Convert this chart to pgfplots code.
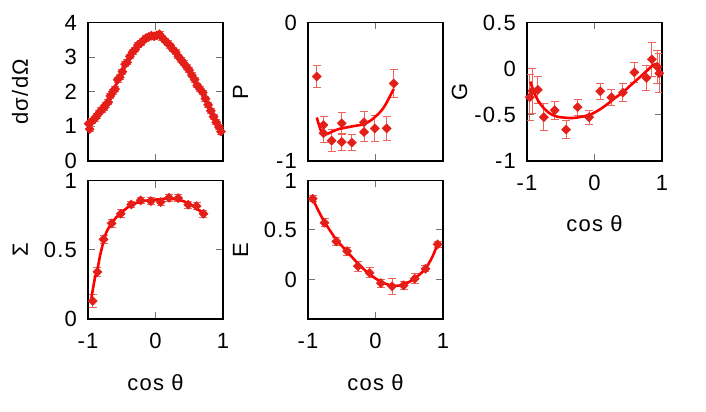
\documentclass[border=0pt]{standalone}
\usepackage{pgfplots}
\pgfplotsset{compat=1.18}
\usepackage{fontspec}
\setmainfont{Liberation Sans}[LetterSpace=5.5]
\definecolor{ptred}{RGB}{228,30,24}
\definecolor{errred}{RGB}{238,100,90}
\definecolor{curvered}{RGB}{255,0,0}
\newcommand\ff{\fontsize{22bp}{26bp}\selectfont}
\pgfplotsset{
 panel/.style={scale only axis, width=135bp, height=138.5bp, anchor=south west,
   xmin=-1, xmax=1, xtick={-1,0,1}, xticklabels={-1,0,1},
   tick align=inside, major tick length=7bp,
   tick style={color=black!55, line width=1bp},
   axis line style={line width=1.1bp},
   tick label style={font=\ff},
   yticklabel style={xshift=-7.6bp},
   xticklabel style={yshift=-10.4bp},
   every axis x label/.style={at={(axis description cs:0.5,0)}, anchor=base, yshift=-71bp, font=\ff},
   every axis y label/.style={at={(axis description cs:0,0.5)}, xshift=-60bp, rotate=90, anchor=base, font=\ff},
 },
 pts/.style={only marks, mark=square*, mark size=3.3bp, color=ptred,
   mark options={rotate=45, fill=ptred, draw=ptred, line width=0.3bp},
   error bars/.cd, y dir=both, y explicit,
   error bar style={color=errred, line width=0.9bp},
   error mark options={rotate=90, color=errred, mark size=4bp, line width=0.9bp}},
 fit/.style={no marks, color=curvered, line width=2.6bp, smooth},
}
\begin{document}
\begin{tikzpicture}
\useasboundingbox (0bp,0bp) rectangle (706bp,412bp);

% ---- d sigma / d Omega ----
\begin{axis}[panel, at={(88bp,251bp)}, ymin=0, ymax=4, ytick={0,1,2,3,4}, yticklabels={0,1,2,3,4},
  xticklabels={}, ylabel={dσ/dΩ}]
\addplot+[pts] table[x index=0, y index=1, y error index=2] {
-0.99 1.08 0.07
-0.975 0.92 0.07
-0.94 1.15 0.07
-0.90 1.22 0.07
-0.87 1.30 0.07
-0.83 1.40 0.07
-0.80 1.48 0.07
-0.77 1.52 0.07
-0.74 1.62 0.07
-0.70 1.70 0.07
-0.67 1.88 0.07
-0.63 2.00 0.07
-0.60 2.08 0.07
-0.56 2.35 0.07
-0.53 2.42 0.07
-0.49 2.58 0.07
-0.45 2.80 0.07
-0.42 2.85 0.07
-0.38 3.02 0.07
-0.34 3.14 0.07
-0.30 3.22 0.07
-0.26 3.35 0.07
-0.22 3.40 0.07
-0.18 3.48 0.07
-0.14 3.55 0.07
-0.10 3.58 0.07
-0.06 3.62 0.07
-0.02 3.60 0.07
0.02 3.63 0.07
0.06 3.66 0.07
0.10 3.56 0.07
0.14 3.48 0.07
0.18 3.40 0.07
0.22 3.33 0.07
0.26 3.22 0.07
0.30 3.15 0.07
0.34 3.02 0.07
0.38 2.92 0.07
0.42 2.82 0.07
0.46 2.72 0.07
0.50 2.62 0.07
0.54 2.48 0.07
0.58 2.35 0.07
0.62 2.18 0.07
0.66 2.08 0.07
0.70 1.98 0.07
0.74 1.80 0.07
0.78 1.62 0.07
0.82 1.45 0.07
0.86 1.28 0.07
0.90 1.12 0.07
0.94 0.98 0.07
0.97 0.85 0.07
};
\addplot[fit] coordinates {(-1,1.07) (-0.95,1.15) (-0.9,1.22) (-0.85,1.30) (-0.8,1.42) (-0.75,1.56)
 (-0.7,1.73) (-0.65,1.92) (-0.6,2.13) (-0.55,2.35) (-0.5,2.57) (-0.45,2.78) (-0.4,2.96)
 (-0.35,3.12) (-0.3,3.25) (-0.25,3.35) (-0.2,3.45) (-0.15,3.53) (-0.1,3.58) (-0.05,3.61)
 (0,3.62) (0.05,3.60) (0.1,3.55) (0.15,3.47) (0.2,3.38) (0.25,3.26) (0.3,3.13) (0.35,3.00)
 (0.4,2.87) (0.45,2.73) (0.5,2.59) (0.55,2.44) (0.6,2.29) (0.65,2.12) (0.7,1.95) (0.75,1.77)
 (0.8,1.58) (0.85,1.36) (0.9,1.15) (0.95,0.95) (0.98,0.83)};
\end{axis}

% ---- P ----
\begin{axis}[panel, at={(308bp,251bp)}, ymin=-1, ymax=0, ytick={-1,0}, yticklabels={-1,0},
  xticklabels={}, ylabel={P}]
\addplot+[pts] table[x index=0, y index=1, y error index=2] {
-0.87 -0.39 0.078
-0.77 -0.74 0.065
-0.77 -0.80 0.065
-0.65 -0.853 0.078
-0.50 -0.727 0.08
-0.50 -0.862 0.063
-0.35 -0.867 0.06
-0.17 -0.72 0.08
-0.17 -0.79 0.066
-0.01 -0.765 0.094
0.165 -0.765 0.09
0.27 -0.44 0.10
};
\addplot[fit] coordinates {(-0.87,-0.686) (-0.81,-0.78) (-0.757,-0.81) (-0.65,-0.79) (-0.55,-0.77)
 (-0.42,-0.757) (-0.30,-0.746) (-0.17,-0.734) (-0.05,-0.70) (0.075,-0.643) (0.14,-0.60)
 (0.20,-0.546) (0.27,-0.48)};
\end{axis}

% ---- G ----
\begin{axis}[panel, at={(527bp,251bp)}, ymin=-1, ymax=0.5, ytick={-1,-0.5,0,0.5},
  yticklabels={-1,-0.5,0,0.5}, xlabel={cos θ}, ylabel={G}]
\addplot+[pts] table[x index=0, y index=1, y error index=2] {
-0.96 -0.31 0.25
-0.92 -0.24 0.24
-0.84 -0.23 0.146
-0.75 -0.526 0.146
-0.59 -0.45 0.10
-0.42 -0.66 0.10
-0.25 -0.417 0.088
-0.08 -0.526 0.077
0.085 -0.245 0.086
0.25 -0.31 0.09
0.42 -0.26 0.10
0.59 -0.04 0.11
0.77 -0.10 0.14
0.85 0.10 0.18
0.93 0.02 0.18
0.96 -0.05 0.21
};
\addplot[fit] coordinates {(-0.95,-0.14) (-0.9,-0.25) (-0.84,-0.34) (-0.75,-0.43) (-0.65,-0.49)
 (-0.55,-0.52) (-0.45,-0.53) (-0.35,-0.535) (-0.26,-0.53) (-0.15,-0.515) (-0.07,-0.50)
 (0.05,-0.455) (0.18,-0.39) (0.3,-0.32) (0.43,-0.25) (0.55,-0.17) (0.68,-0.087) (0.78,-0.02)
 (0.87,0.04) (0.92,0.05) (0.95,0.03)};
\end{axis}

% ---- Sigma ----
\begin{axis}[panel, at={(88bp,93bp)}, ymin=0, ymax=1, ytick={0,0.5,1}, yticklabels={0,0.5,1},
  xlabel={cos θ}, ylabel={Σ}]
\addplot+[pts] table[x index=0, y index=1, y error index=2] {
-0.93 0.13 0.05
-0.86 0.34 0.03
-0.77 0.575 0.03
-0.65 0.69 0.03
-0.515 0.76 0.03
-0.36 0.827 0.025
-0.22 0.856 0.025
-0.07 0.851 0.025
0.075 0.844 0.025
0.20 0.875 0.025
0.335 0.873 0.025
0.485 0.825 0.025
0.61 0.815 0.025
0.71 0.76 0.025
};
\addplot[fit] coordinates {(-0.95,0.15) (-0.9,0.29) (-0.86,0.36) (-0.82,0.46) (-0.77,0.56)
 (-0.72,0.635) (-0.65,0.69) (-0.58,0.735) (-0.5,0.77) (-0.4,0.81) (-0.3,0.835) (-0.2,0.85)
 (-0.1,0.857) (0,0.862) (0.1,0.866) (0.2,0.868) (0.3,0.864) (0.4,0.853) (0.5,0.832)
 (0.6,0.80) (0.71,0.76)};
\end{axis}

% ---- E ----
\begin{axis}[panel, at={(308bp,93bp)}, ymin=-0.4, ymax=1, ytick={0,0.5,1}, yticklabels={0,0.5,1},
  xlabel={cos θ}, ylabel={E}]
\addplot+[pts] table[x index=0, y index=1, y error index=2] {
-0.93 0.815 0.03
-0.755 0.573 0.04
-0.58 0.384 0.04
-0.42 0.286 0.04
-0.26 0.134 0.05
-0.087 0.067 0.05
0.08 -0.037 0.04
0.245 -0.07 0.08
0.415 -0.06 0.04
0.58 0.007 0.05
0.74 0.108 0.03
0.92 0.354 0.03
};
\addplot[fit] coordinates {(-0.94,0.83) (-0.85,0.70) (-0.755,0.58) (-0.65,0.47) (-0.58,0.40)
 (-0.5,0.34) (-0.42,0.28) (-0.3,0.19) (-0.2,0.12) (-0.1,0.06) (0,0.01) (0.1,-0.03)
 (0.2,-0.055) (0.3,-0.065) (0.4,-0.055) (0.5,-0.025) (0.6,0.02) (0.7,0.08) (0.78,0.15)
 (0.85,0.24) (0.9,0.32) (0.945,0.38)};
\end{axis}
\end{tikzpicture}
\end{document}
